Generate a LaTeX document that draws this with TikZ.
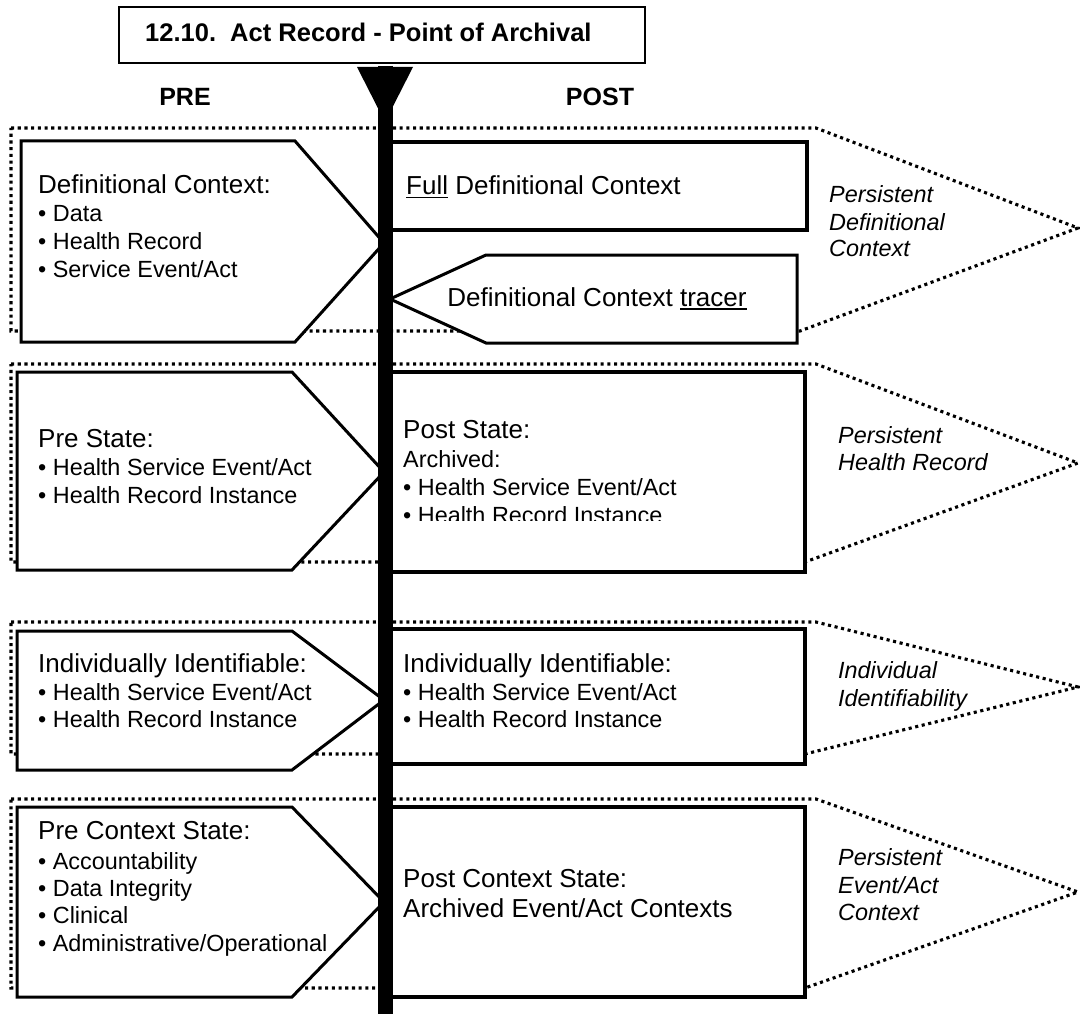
\documentclass[tikz,border=0pt]{standalone}
\usepackage{fontspec}
\setmainfont{Liberation Sans}
% underline with a rule of fixed weight, sized for large text
\newcommand\fatul[1]{\setbox0\hbox{#1}\rlap{\rule[-3.5pt]{\wd0}{1.8pt}}\box0{}}
\begin{document}
\begin{tikzpicture}[x=1pt,y=-1pt,
  dotline/.style={line width=3.1pt, dash pattern=on 3.1pt off 3.6pt},
  prebox/.style={draw, line width=3pt, fill=white, line join=miter},
  postbox/.style={draw, line width=4.5pt, fill=white},
  tracerbox/.style={draw, line width=3pt, fill=white, line join=miter},
  txt/.style={anchor=base west, inner sep=0pt},
  head/.style={txt, font=\fontsize{26}{28}\selectfont},
  item/.style={txt, font=\fontsize{23.4}{27}\selectfont},
  note/.style={txt, font=\fontsize{23.4}{27}\selectfont\itshape},
  side/.style={anchor=base, inner sep=0pt, font=\fontsize{25}{28}\selectfont\bfseries}
]
\useasboundingbox (0,0) rectangle (1080,1014);
\fill[white] (0,0) rectangle (1080,1014);

% title
\draw[line width=1.6pt] (119,7) rectangle (645,63);
\node[txt, font=\fontsize{25.5}{28}\selectfont\bfseries] (title) at (145,42) {12.10.\ \ Act Record - Point of Archival};

\node[side] (pre) at (185,106) {PRE};
\node[side] (post) at (600,106) {POST};

% dotted group outlines
\draw[dotline] (11,128) -- (816,128) -- (1078,228) -- (800,331) -- (11,331) -- cycle;
\draw[dotline] (11,364) -- (816,364) -- (1078,463) -- (805,562) -- (11,562) -- cycle;
\draw[dotline] (11,622) -- (816,622) -- (1078,687) -- (805,754) -- (11,754) -- cycle;
\draw[dotline] (11,799) -- (816,799) -- (1078,892) -- (805,988) -- (11,988) -- cycle;

% pre-side pointer boxes
\path[prebox] (21,141) -- (295,141) -- (384,243) -- (295,342) -- (21,342) -- cycle;
\path[prebox] (17,372) -- (292,372) -- (384,472) -- (292,570) -- (17,570) -- cycle;
\path[prebox] (17,631) -- (292,631) -- (384,700) -- (292,770) -- (17,770) -- cycle;
\path[prebox] (17,807) -- (292,807) -- (384,902) -- (292,997) -- (17,997) -- cycle;

% post-side boxes
\path[postbox] (385,142) rectangle (807,230);
\path[tracerbox] (797,255) -- (797,343) -- (486,343) -- (390,299) -- (486,255) -- cycle;
\path[postbox] (385,372) rectangle (805,572);
\path[postbox] (385,629) rectangle (805,764);
\path[postbox] (385,807) rectangle (805,997);

% time axis
\coordinate (axtop) at (385,66);
\coordinate (axbot) at (385,1014);
\draw[line width=15pt] (axtop) -- (axbot);
\fill (357,67) -- (413,67) -- (385,122) -- cycle;

% pre texts
\node[head] (p1a) at (38,194) {Definitional Context:};
\node[item] (p1b) at (38,222) {• Data};
\node[item] (p1c) at (38,250) {• Health Record};
\node[item] (p1d) at (38,277) {• Service Event/Act};

\node[head] (p2a) at (38,447) {Pre State:};
\node[item] (p2b) at (38,475) {• Health Service Event/Act};
\node[item] (p2c) at (38,503) {• Health Record Instance};

\node[head] (p3a) at (38,672) {Individually Identifiable:};
\node[item] (p3b) at (38,700) {• Health Service Event/Act};
\node[item] (p3c) at (38,727) {• Health Record Instance};

\node[head] (p4a) at (38,839) {Pre Context State:};
\node[item] (p4b) at (38,869) {• Accountability};
\node[item] (p4c) at (38,896) {• Data Integrity};
\node[item] (p4d) at (38,923) {• Clinical};
\node[item] (p4e) at (38,951) {• Administrative/Operational};

% post texts
\node[head] (q1a) at (406,195) {\fatul{Full} Definitional Context};
\node[head, anchor=base] (q1b) at (597,306) {Definitional Context \fatul{tracer}};

\node[head] (q2a) at (403,438) {Post State:};
\begin{scope}
  \clip (385,372) rectangle (805,520);
  \node[item] (q2b) at (403,467) {Archived:};
  \node[item] (q2c) at (403,495) {• Health Service Event/Act};
  \node[item] (q2d) at (403,523) {• Health Record Instance};
\end{scope}

\node[head] (q3a) at (403,672) {Individually Identifiable:};
\node[item] (q3b) at (403,700) {• Health Service Event/Act};
\node[item] (q3c) at (403,727) {• Health Record Instance};

\node[head] (q4a) at (403,887) {Post Context State:};
\node[head] (q4b) at (403,917) {Archived Event/Act Contexts};

% persistence labels
\node[note] (n1a) at (829,203) {Persistent};
\node[note] (n1b) at (829,230) {Definitional};
\node[note] (n1c) at (829,257) {Context};
\node[note] (n2a) at (838,443) {Persistent};
\node[note] (n2b) at (838,470) {Health Record};
\node[note] (n3a) at (838,678) {Individual};
\node[note] (n3b) at (838,706) {Identifiability};
\node[note] (n4a) at (838,865) {Persistent};
\node[note] (n4b) at (838,893) {Event/Act};
\node[note] (n4c) at (838,920) {Context};
\end{tikzpicture}
\end{document}
